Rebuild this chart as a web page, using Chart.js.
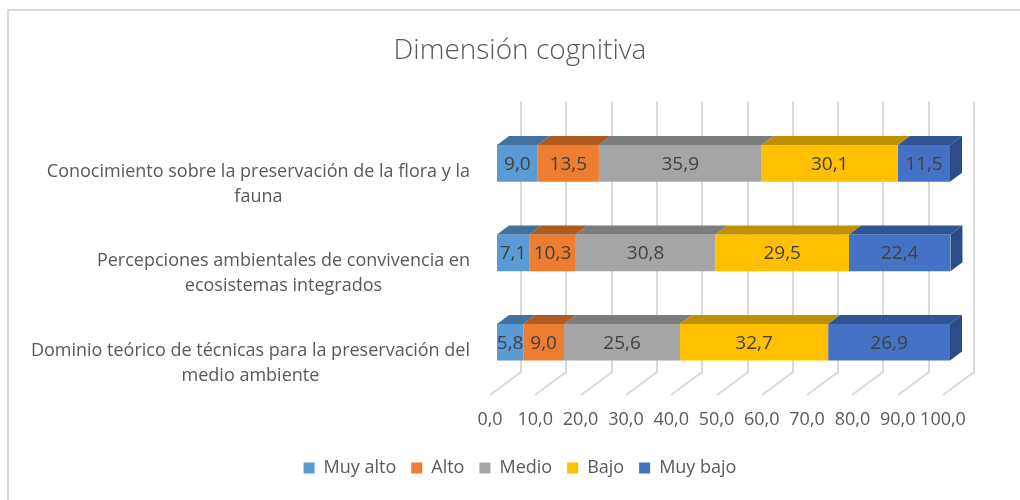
<!DOCTYPE html>
<html>
<head>
<meta charset="utf-8">
<script src="https://cdn.jsdelivr.net/npm/chart.js@4/dist/chart.umd.min.js"></script>
<style>
  html, body { margin: 0; padding: 0; background: #fff; }
  #wrap { width: 1020px; height: 500px; }
</style>
</head>
<body>
<div id="wrap"><canvas id="chart"></canvas></div>
<script>
// categories (top to bottom) and series, values in %
const categories = [
  ["Conocimiento sobre la preservación de la flora y la", "fauna"],
  ["Percepciones ambientales de convivencia en", "ecosistemas integrados"],
  ["Dominio teórico de técnicas para la preservación del", "medio ambiente"]
];
const seriesNames = ["Muy alto", "Alto", "Medio", "Bajo", "Muy bajo"];
const muyAlto = [9.0, 7.1, 5.8];
const alto = [13.5, 10.3, 9.0];
const medio = [35.9, 30.8, 25.6];
const bajo = [30.1, 29.5, 32.7];
const muyBajo = [11.5, 22.4, 26.9];
const xTickValues = [0, 10, 20, 30, 40, 50, 60, 70, 80, 90, 100];

const frontColors = ["#5B9BD5", "#ED7D31", "#A5A5A5", "#FFC000", "#4472C4"];
const topColors = ["#41719C", "#AE5A21", "#7C7C7C", "#BF9000", "#2F5597"];
const sideColor = "#2B4C88";
const FONT = "'Open Sans', 'Liberation Sans', sans-serif";
const TEXT = "#595959";

const fmt = v => v.toFixed(1).replace(".", ",");

// fake 3d: top faces, right end, back grid and floor
const chart3d = {
  id: "chart3d",
  beforeDraw(chart) {
    const ctx = chart.ctx;
    ctx.save();
    ctx.fillStyle = "#fff";
    ctx.fillRect(0, 0, chart.width, chart.height);
    ctx.strokeStyle = "#D9D9D9";
    ctx.lineWidth = 2;
    ctx.beginPath();
    ctx.moveTo(8, chart.height);
    ctx.lineTo(8, 10);
    ctx.lineTo(chart.width, 10);
    ctx.stroke();
    ctx.restore();
  },
  beforeDatasetsDraw(chart) {
    const { ctx, chartArea: a, scales: { x } } = chart;
    ctx.save();
    ctx.strokeStyle = "#DADADA";
    ctx.lineWidth = 2;
    x.ticks.forEach(t => {
      const bx = Math.round(x.getPixelForValue(t.value)) + 24;
      ctx.beginPath();
      ctx.moveTo(bx, a.top - 17);
      ctx.lineTo(bx, a.bottom - 15);
      ctx.lineTo(bx - 31, a.bottom + 8);
      ctx.stroke();
    });
    ctx.restore();
  },
  afterDatasetsDraw(chart) {
    const ctx = chart.ctx;
    const dx = 12, dy = 9;
    const last = chart.data.datasets.length - 1;
    ctx.save();
    chart.data.datasets.forEach((ds, i) => {
      chart.getDatasetMeta(i).data.forEach((bar, j) => {
        const p = bar.getProps(["x", "y", "base", "height"], true);
        const left = Math.min(p.x, p.base), right = Math.max(p.x, p.base);
        const top = p.y - p.height / 2, bottom = p.y + p.height / 2;
        ctx.fillStyle = topColors[i];
        ctx.beginPath();
        ctx.moveTo(left, top);
        ctx.lineTo(left + dx, top - dy);
        ctx.lineTo(right + dx, top - dy);
        ctx.lineTo(right, top);
        ctx.closePath();
        ctx.fill();
        if (i === last) {
          ctx.fillStyle = sideColor;
          ctx.beginPath();
          ctx.moveTo(right, top);
          ctx.lineTo(right + dx, top - dy);
          ctx.lineTo(right + dx, bottom - dy);
          ctx.lineTo(right, bottom);
          ctx.closePath();
          ctx.fill();
        }
        ctx.fillStyle = "#404040";
        ctx.font = "19px " + FONT;
        ctx.textAlign = "center";
        ctx.textBaseline = "middle";
        ctx.fillText(fmt(ds.data[j]), (left + right) / 2, p.y + 1);
      });
    });
    ctx.restore();
  },
  afterDraw(chart) {
    // category labels: block right aligned, lines centred inside it
    const { ctx, scales: { y } } = chart;
    ctx.save();
    ctx.font = "18px " + FONT;
    ctx.fillStyle = TEXT;
    ctx.textAlign = "center";
    ctx.textBaseline = "middle";
    const lh = 25;
    categories.forEach((lines, i) => {
      const w = Math.max(...lines.map(l => ctx.measureText(l).width));
      const cx = 470 - w / 2;
      const cy = y.getPixelForValue(i) + 21;
      lines.forEach((l, k) => {
        ctx.fillText(l, cx, cy + (k - (lines.length - 1) / 2) * lh);
      });
    });
    ctx.restore();
  }
};

const seriesData = [muyAlto, alto, medio, bajo, muyBajo];

new Chart(document.getElementById("chart"), {
  type: "bar",
  data: {
    labels: categories,
    datasets: seriesNames.map((name, i) => ({
      label: name,
      data: seriesData[i],
      backgroundColor: frontColors[i],
      borderWidth: 0,
      categoryPercentage: 1,
      barPercentage: 0.41
    }))
  },
  options: {
    indexAxis: "y",
    responsive: true,
    maintainAspectRatio: false,
    animation: false,
    layout: { padding: { left: 20, right: 0, top: 0, bottom: 13 } },
    scales: {
      x: {
        stacked: true,
        min: 0,
        max: 100,
        afterBuildTicks: s => { s.ticks = xTickValues.map(v => ({ value: v })); },
        afterFit: s => { s.height = 57; },
        grid: { display: false },
        border: { display: false },
        ticks: {
          padding: 14,
          labelOffset: -7,
          maxRotation: 0,
          minRotation: 0,
          autoSkip: false,
          color: TEXT,
          font: { family: FONT, size: 18 },
          callback: v => fmt(v)
        }
      },
      y: {
        stacked: true,
        grid: { display: false },
        border: { display: false },
        ticks: { display: false },
        afterFit: s => { s.width = 477; }
      },
      yRight: {
        type: "category",
        position: "right",
        grid: { display: false },
        border: { display: false },
        ticks: { display: false },
        afterFit: s => { s.width = 70; }
      }
    },
    plugins: {
      title: {
        display: true,
        text: "Dimensión cognitiva",
        color: TEXT,
        font: { family: FONT, size: 28, weight: "300" },
        padding: { top: 34, bottom: 51 }
      },
      legend: {
        position: "bottom",
        labels: {
          boxWidth: 11,
          boxHeight: 11,
          padding: 15,
          color: TEXT,
          font: { family: FONT, size: 18 }
        }
      },
      tooltip: { enabled: false }
    }
  },
  plugins: [chart3d]
});
</script>
</body>
</html>
